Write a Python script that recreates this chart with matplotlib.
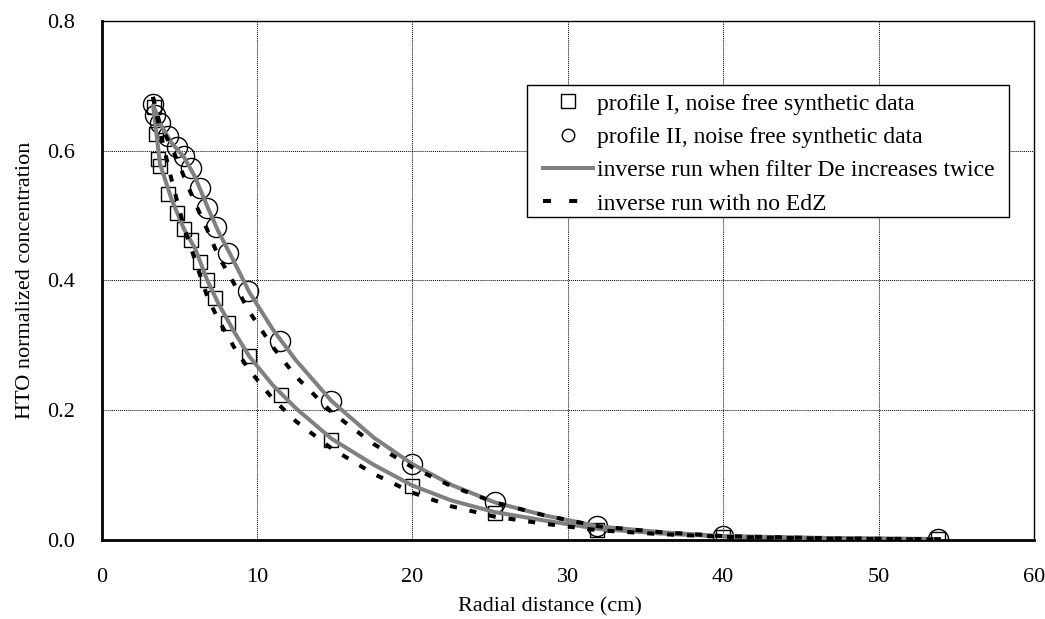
import matplotlib
matplotlib.use("Agg")
import matplotlib.pyplot as plt
from matplotlib.lines import Line2D
from matplotlib.patches import Rectangle

plt.rcParams['font.family'] = ['Liberation Serif', 'DejaVu Serif']
plt.rcParams['font.size'] = 16

# ---- data ----
sq_x = [3.35, 3.47, 3.64, 3.75, 4.30, 4.82, 5.29, 5.78, 6.30, 6.79, 7.29, 8.14, 9.47, 11.52, 14.78, 20.0, 25.3, 31.9, 40.0, 53.8]
sq_y = [0.668, 0.626, 0.587, 0.576, 0.534, 0.504, 0.480, 0.463, 0.429, 0.400, 0.373, 0.335, 0.284, 0.224, 0.154, 0.083, 0.041, 0.015, 0.005, 0.0015]

ci_x = [3.30, 3.40, 3.75, 4.30, 4.82, 5.29, 5.78, 6.30, 6.80, 7.33, 8.14, 9.42, 11.50, 14.78, 20.0, 25.3, 31.9, 40.0, 53.8]
ci_y = [0.672, 0.655, 0.642, 0.622, 0.606, 0.592, 0.574, 0.542, 0.512, 0.483, 0.442, 0.384, 0.306, 0.214, 0.117, 0.058, 0.021, 0.006, 0.0015]

line_x = [3.3, 3.75, 4.5, 5.3, 6.0, 6.8, 7.5, 8.5, 9.5, 11.0, 12.5, 14.8, 17.5, 20.0, 22.5, 25.3, 28.5, 32.0, 36.0, 40.0, 47.0, 54.0]
grey_I = [0.672, 0.580, 0.525, 0.479, 0.450, 0.400, 0.365, 0.322, 0.283, 0.239, 0.203, 0.156, 0.116, 0.084, 0.061, 0.043, 0.030, 0.017, 0.010, 0.0055, 0.0025, 0.0012]
dash_I = [0.683, 0.630, 0.555, 0.482, 0.432, 0.375, 0.340, 0.298, 0.262, 0.218, 0.183, 0.141, 0.102, 0.073, 0.052, 0.036, 0.025, 0.015, 0.009, 0.005, 0.002, 0.001]
grey_II = [0.672, 0.642, 0.612, 0.590, 0.560, 0.514, 0.476, 0.430, 0.382, 0.325, 0.277, 0.214, 0.158, 0.117, 0.085, 0.058, 0.038, 0.021, 0.012, 0.006, 0.003, 0.0015]
dash_II = [0.683, 0.640, 0.606, 0.560, 0.520, 0.478, 0.438, 0.396, 0.352, 0.298, 0.252, 0.197, 0.148, 0.112, 0.083, 0.058, 0.038, 0.021, 0.012, 0.006, 0.0025, 0.0012]

x_ticks = [0, 10, 20, 30, 40, 50, 60]
y_ticks = [0.0, 0.2, 0.4, 0.6, 0.8]

labels = ["profile I, noise free synthetic data",
          "profile II, noise free synthetic data",
          "inverse run when filter De increases twice",
          "inverse run with no EdZ"]

GREY = "#808080"
W, H = 1045, 619

fig = plt.figure(figsize=(W / 100, H / 100), dpi=100)
ax = fig.add_axes([0.0973, 0.1276, 0.9895 - 0.0973, 0.9661 - 0.1276])

ax.plot(sq_x, sq_y, linestyle="none", marker="s", markersize=10.5,
        markerfacecolor="none", markeredgecolor="black", markeredgewidth=1.0, zorder=3)
ax.plot(ci_x, ci_y, linestyle="none", marker="o", markersize=14.5,
        markerfacecolor="none", markeredgecolor="black", markeredgewidth=1.0, zorder=3)

for yy in (grey_I, grey_II):
    ax.plot(line_x, yy, color=GREY, lw=2.9, solid_capstyle="butt", zorder=4)
for yy in (dash_I, dash_II):
    l, = ax.plot(line_x, yy, color="black", lw=2.9, zorder=5)
    l.set_dashes([1.75, 3.2])
    l.set_dash_capstyle("butt")

ax.set_xlim(0, 60)
ax.set_ylim(0, 0.8)
ax.set_xticks(x_ticks)
ax.set_yticks(y_ticks)
ax.set_xticklabels([str(v) for v in x_ticks])
ax.set_yticklabels([f"{v:.1f}" for v in y_ticks])
ax.tick_params(axis="both", length=0)
ax.tick_params(axis="x", pad=20)
ax.tick_params(axis="y", pad=19)
ax.grid(True, color="black", linestyle=(0, (1, 1)), linewidth=0.7)
ax.set_axisbelow(True)

ax.spines["left"].set_linewidth(2.0)
ax.spines["bottom"].set_linewidth(2.0)
ax.spines["top"].set_linewidth(1.0)
ax.spines["right"].set_linewidth(1.0)

ax.set_xlabel("Radial distance (cm)")
ax.set_ylabel("HTO normalized concentration", labelpad=9)
ax.xaxis.set_label_coords(0.481, -0.110)

handles = [
    Line2D([], [], linestyle="none", marker="s", markersize=9.5, markerfacecolor="none",
           markeredgecolor="black", markeredgewidth=1.0),
    Line2D([], [], linestyle="none", marker="o", markersize=9.0, markerfacecolor="none",
           markeredgecolor="black", markeredgewidth=1.0),
    Line2D([], [], color=GREY, lw=2.9),
    Line2D([], [], color="black", lw=2.9, dashes=[2.0, 4.5]),
]
# legend frame drawn as a plain box (inside the axes so the legend sits above it)
box = Rectangle((527 / W, 1 - 217 / H), (1009 - 527) / W, (217 - 85) / H,
                transform=fig.transFigure, facecolor="white",
                edgecolor="black", linewidth=1.0, zorder=6, clip_on=False)
ax.add_patch(box)
leg = ax.legend(handles, labels, loc="upper left",
                bbox_to_anchor=(543 / W, 1 - 93 / H), bbox_transform=fig.transFigure,
                frameon=False, prop={"size": 17},
                handlelength=2.1, handletextpad=0.2, labelspacing=0.5, borderpad=0,
                borderaxespad=0)
leg.set_zorder(7)

fig.savefig("out.png", dpi=100)
